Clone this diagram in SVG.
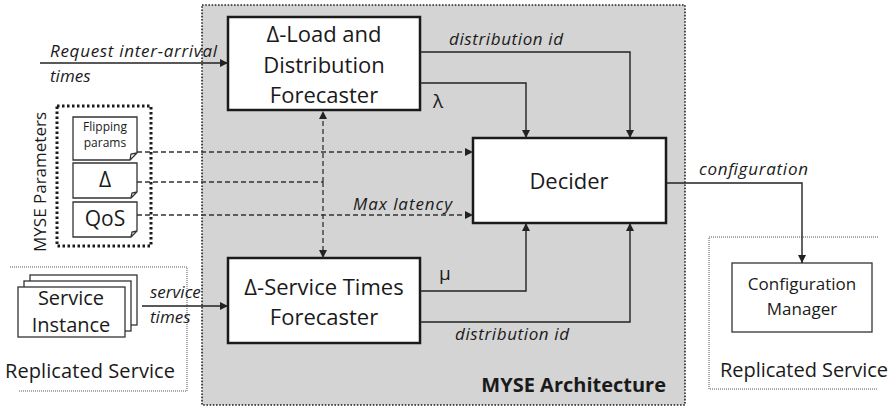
<svg xmlns="http://www.w3.org/2000/svg" width="893" height="407" viewBox="0 0 893 407">
  <style>
    text { font-family: "Open Sans", "Noto Sans", "Liberation Sans", sans-serif; fill: #1a1a1a; }
    .box { fill: #ffffff; stroke: #1a1a1a; stroke-width: 2.5; }
    .thin { fill: #ffffff; stroke: #333333; stroke-width: 1.3; }
    .wire { fill: none; stroke: #222222; stroke-width: 1.4; }
    .dash { fill: none; stroke: #333333; stroke-width: 1.3; stroke-dasharray: 5 3; }
    .lbl { font-size: 17px; font-style: italic; }
    .big { font-size: 22px; text-anchor: middle; }
    .mid { font-size: 17px; text-anchor: middle; }
    .frame { fill: none; stroke: #555555; stroke-width: 1; stroke-dasharray: 1 1; }
  </style>
  <defs>
    <marker id="arrow" viewBox="0 0 10 10" refX="10" refY="5" markerWidth="8" markerHeight="8" markerUnits="userSpaceOnUse" orient="auto">
      <path d="M0,0 L10,5 L0,10 z" fill="#222222"/>
    </marker>
  </defs>

  <!-- MYSE architecture area -->
  <g id="myse-architecture">
    <rect x="202" y="5" width="483" height="400" fill="#d4d4d4" stroke="#222222" stroke-width="1.6" stroke-dasharray="1.6 1.6"/>
    <text x="666" y="392" font-size="20" font-weight="bold" text-anchor="end">MYSE Architecture</text>
  </g>

  <!-- left replicated service frame -->
  <g id="replicated-service-left">
    <path class="frame" d="M10,267 H187 V391 H18"/>
    <text x="5" y="378" font-size="20" textLength="170">Replicated Service</text>
  </g>

  <!-- right replicated service frame -->
  <g id="replicated-service-right">
    <path class="frame" d="M878,237 H709 V389 H878"/>
    <text x="720" y="377" font-size="20" textLength="168">Replicated Service</text>
  </g>

  <!-- stacked service instances -->
  <g id="service-instance">
    <rect class="thin" x="30" y="275" width="107" height="50"/>
    <rect class="thin" x="24" y="281" width="107" height="50"/>
    <rect class="thin" x="18" y="287" width="107" height="50"/>
    <text class="big" x="71" y="305" font-size="20" style="font-size:20px">Service</text>
    <text class="big" x="71" y="332" style="font-size:20px">Instance</text>
  </g>

  <!-- parameter group -->
  <g id="myse-parameters">
    <rect x="57" y="106" width="94" height="140" fill="none" stroke="#1a1a1a" stroke-width="3" stroke-dasharray="2.5 2.5"/>
    <text transform="translate(46,182) rotate(-90)" font-size="17" text-anchor="middle">MYSE Parameters</text>
  </g>

  <g id="param-flipping">
    <path class="thin" d="M73,117 H137 V153 L130,160 H73 Z M130,160 L131,154 L137,153"/>
    <text x="105" y="131" font-size="12" text-anchor="middle">Flipping</text>
    <text x="105" y="147" font-size="12" text-anchor="middle">params</text>
  </g>
  <g id="param-delta">
    <path class="thin" d="M73,163 H137 V192 L131,198 H73 Z M131,198 L132,193 L137,192"/>
    <text x="105" y="187" font-size="21" text-anchor="middle">Δ</text>
  </g>
  <g id="param-qos">
    <path class="thin" d="M73,202 H137 V231 L131,237 H73 Z M131,237 L132,232 L137,231"/>
    <text x="105" y="226" font-size="21" text-anchor="middle">QoS</text>
  </g>

  <!-- forecasters and decider -->
  <g id="load-forecaster">
    <rect class="box" x="228" y="17" width="192" height="93"/>
    <text class="big" x="324" y="42">Δ-Load and</text>
    <text class="big" x="324" y="73">Distribution</text>
    <text class="big" x="324" y="103">Forecaster</text>
  </g>

  <g id="service-forecaster">
    <rect class="box" x="228" y="258" width="192" height="85"/>
    <text class="big" x="324" y="295">Δ-Service Times</text>
    <text class="big" x="324" y="325">Forecaster</text>
  </g>

  <g id="decider">
    <rect class="box" x="473" y="138" width="193" height="85"/>
    <text class="big" x="569" y="189">Decider</text>
  </g>

  <g id="configuration-manager">
    <rect class="thin" x="732" y="263" width="140" height="69"/>
    <text class="mid" x="802" y="290">Configuration</text>
    <text class="mid" x="802" y="315">Manager</text>
  </g>

  <!-- connectors -->
  <g id="connectors">
    <path class="wire" d="M40,63 H228" marker-end="url(#arrow)"/>
    <path class="wire" d="M142,306 H228" marker-end="url(#arrow)"/>
    <path class="wire" d="M420,52 H630 V138" marker-end="url(#arrow)"/>
    <path class="wire" d="M420,83 H526 V138" marker-end="url(#arrow)"/>
    <path class="wire" d="M420,291 H526 V223" marker-end="url(#arrow)"/>
    <path class="wire" d="M420,322 H630 V223" marker-end="url(#arrow)"/>
    <path class="wire" d="M666,183 H802 V263" marker-end="url(#arrow)"/>

    <path class="dash" d="M137,152 H473" marker-end="url(#arrow)"/>
    <path class="dash" d="M137,182 H323"/>
    <path class="dash" d="M137,215 H473" marker-end="url(#arrow)"/>
    <path class="dash" d="M323,182 V111" marker-end="url(#arrow)"/>
    <path class="dash" d="M323,182 V258" marker-end="url(#arrow)"/>
  </g>

  <!-- connector labels -->
  <g id="connector-labels">
    <text class="lbl" x="50" y="57" textLength="167">Request inter-arrival</text>
    <text class="lbl" x="50" y="82">times</text>
    <text class="lbl" x="150" y="298">service</text>
    <text class="lbl" x="150" y="323">times</text>
    <text class="lbl" x="449" y="45" textLength="114">distribution id</text>
    <text class="lbl" x="455" y="340" textLength="114">distribution id</text>
    <text class="lbl" x="353" y="210" textLength="99">Max latency</text>
    <text class="lbl" x="699" y="175" textLength="109">configuration</text>
    <text x="433" y="108" font-size="19">λ</text>
    <text x="439" y="280" font-size="19">μ</text>
  </g>
</svg>
